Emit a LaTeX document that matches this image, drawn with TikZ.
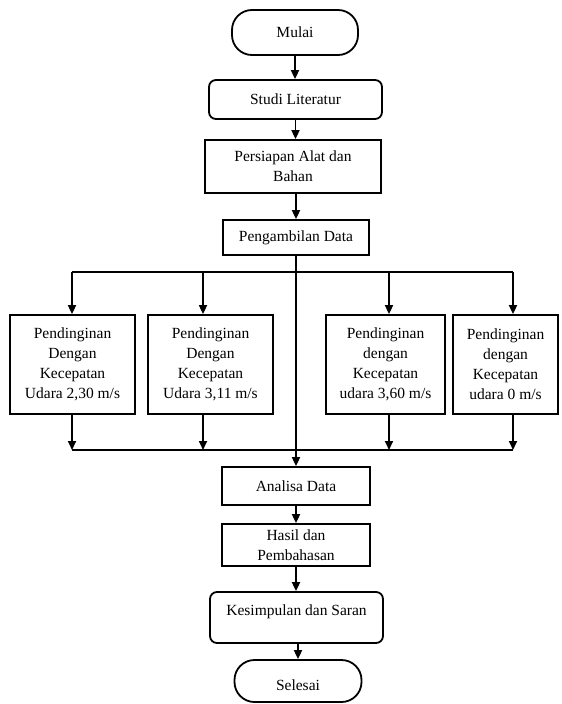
\documentclass[tikz,border=0pt]{standalone}
\usepackage{fontspec}
\setmainfont{Liberation Serif}
\usetikzlibrary{arrows.meta,calc}
\begin{document}
\begin{tikzpicture}[x=1pt,y=-1pt,
  every node/.style={font=\fontsize{15.5}{20}\selectfont, align=center, inner sep=0pt},
  box/.style={draw, line width=1.8pt, minimum width=#1},
  rbox/.style={draw, line width=1.8pt, rounded corners=7pt, minimum width=#1},
  term/.style={draw, line width=1.8pt, rounded corners=20pt, minimum width=#1},
  arr/.style={line width=1.8pt, -{Triangle[length=9pt,width=8pt]}},
  ln/.style={line width=1.8pt}]
\useasboundingbox (0,0) rectangle (562,704);
\node[term=126pt, minimum height=45pt] (mulai) at (295,32.5) {Mulai};
\node[rbox=173pt, minimum height=39pt] (studi) at (295.5,99.5) {Studi Literatur};
\node[box=176pt, minimum height=53pt] (persiapan) at (293,166.5) {Persiapan Alat dan\\Bahan};
\node[box=146pt, minimum height=35pt] (ambil) at (296,237.5) {Pengambilan Data};
\node[box=125pt, minimum height=99pt] (b1) at (72.5,364.5) {Pendinginan\\Dengan\\Kecepatan\\Udara 2,30 m/s};
\node[box=125pt, minimum height=99pt] (b2) at (210.5,364.5) {Pendinginan\\Dengan\\Kecepatan\\Udara 3,11 m/s};
\node[box=119pt, minimum height=99pt] (b3) at (385.5,364.5) {Pendinginan\\dengan\\Kecepatan\\udara 3,60 m/s};
\node[box=105pt, minimum height=99pt] (b4) at (505.5,364.5) {Pendinginan\\dengan\\Kecepatan\\udara 0 m/s};
\node[box=148pt, minimum height=38pt] (analisa) at (296,486) {Analisa Data};
\node[box=148pt, minimum height=42pt] (hasil) at (296,545) {Hasil dan\\Pembahasan};
\node[rbox=173pt, minimum height=51pt] (kesim) at (296.5,617.5) {};
\node (kesimtxt) at (296.5,612) {Kesimpulan dan Saran};
\node[term=127pt, minimum height=42pt] (selesai) at (298,681) {};
\node (selesaitxt) at (298,685) {Selesai};
\coordinate (a1) at (72,272);
\coordinate (a2) at (203,272);
\coordinate (a3) at (389,272);
\coordinate (a4) at (513,272);
\coordinate (c1) at (72,450);
\coordinate (c2) at (203,450);
\coordinate (c3) at (389,450);
\coordinate (c4) at (513,450);
\draw[arr] (mulai.south) -- (mulai.south |- studi.north);
\draw[arr] (studi.south) -- (studi.south |- persiapan.north);
\draw[arr] (ambil.north |- persiapan.south) -- (ambil.north);
\draw[arr] (ambil.south) -- (analisa.north);
\draw[ln] (a1) -- (a4);
\draw[ln] (c1) -- (c4);
\foreach \i in {1,2,3,4} {
  \draw[arr] (a\i) -- (a\i |- b\i.north);
  \draw[arr] (c\i |- b\i.south) -- (c\i);
}
\draw[arr] (analisa.south) -- (hasil.north);
\draw[arr] (hasil.south) -- (hasil.south |- kesim.north);
\draw[arr] (kesim.south -| selesai.north) -- (selesai.north);
\end{tikzpicture}
\end{document}
